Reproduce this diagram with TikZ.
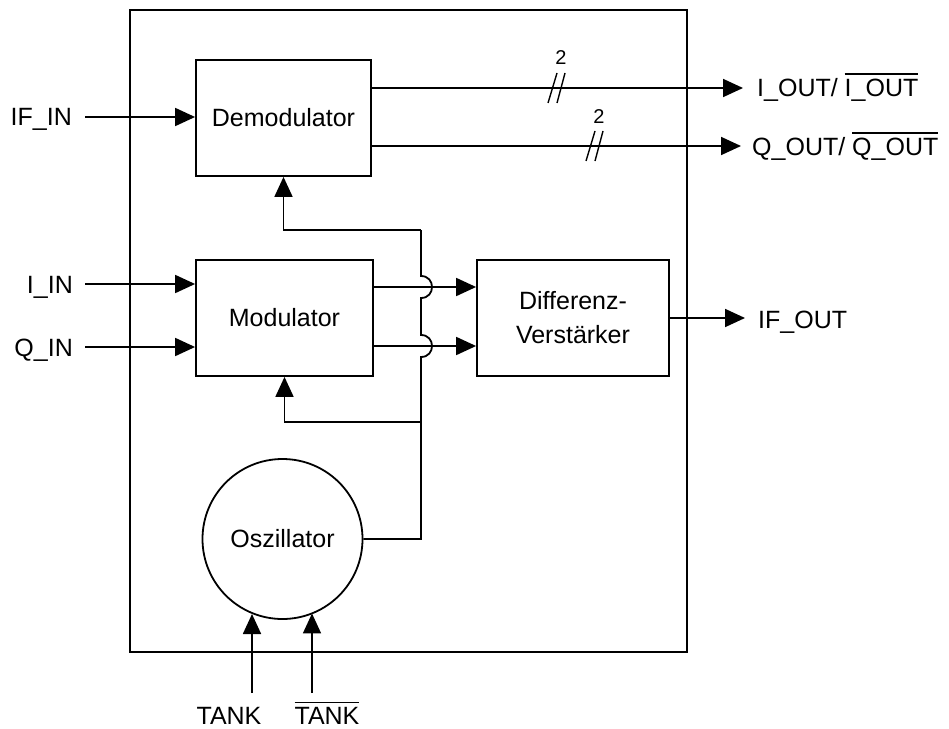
\documentclass[tikz,border=0pt]{standalone}
\usepackage{fontspec}
\setmainfont{Liberation Sans}
\usetikzlibrary{arrows.meta,calc}
\newcommand\barred[1]{\vbox{\hrule height 1.6pt\kern 3.5pt\hbox{#1}}}
\tikzset{
  wire/.style={line width=1.8pt},
  arr/.style={wire,-{Triangle[length=20pt,width=18pt]}},
  blk/.style={draw,line width=1.8pt,inner sep=0pt},
  txt/.style={inner sep=0pt,font=\fontsize{25}{34}\selectfont},
  small/.style={inner sep=0pt,font=\fontsize{20}{24}\selectfont},
  busmark/.pic={\draw[line width=1.4pt] (-9,15) -- (0,-15) (0,15) -- (8,-15);}
}
\begin{document}
\begin{tikzpicture}[x=1pt,y=-1pt]
\useasboundingbox (0,0) rectangle (949,728);
% blocks
\node[blk,minimum width=557pt,minimum height=642pt] (chip) at (408.5,331) {};
\node[blk,txt,minimum width=175pt,minimum height=116pt] (demod) at (283.5,118) {Demodulator};
\node[blk,txt,minimum width=177pt,minimum height=116pt] (mod) at (284.5,318) {Modulator};
\node[blk,txt,align=center,minimum width=192pt,minimum height=116pt] (diff) at (573,318) {Differenz-\\Verstärker};
\node[blk,txt,circle,minimum size=160pt] (osc) at (282.5,539) {Oszillator};
% labels
\node[txt,anchor=base east] (ifin) at (72,125) {IF\_IN};
\node[txt,anchor=base east] (iin) at (73,293) {I\_IN};
\node[txt,anchor=base east] (qin) at (73,356) {Q\_IN};
\node[txt,anchor=base west] (iout) at (757,96) {I\_OUT/ \barred{I\_OUT}};
\node[txt,anchor=base west] (qout) at (752,155) {Q\_OUT/ \barred{Q\_OUT}};
\node[txt,anchor=base west] (ifout) at (758,328) {IF\_OUT};
\node[txt,anchor=base] (tank) at (229,724) {TANK};
\node[txt,anchor=base] (tankn) at (327,724) {\barred{TANK}};
\node[small] (w1) at (561,58) {2};
\node[small] (w2) at (599,117) {2};
% coordinates
\coordinate (ifinS) at (85,117);
\coordinate (iinS) at (85,284);
\coordinate (qinS) at (85,347);
\coordinate (ioutE) at (743,88);
\coordinate (qoutE) at (741,146);
\coordinate (ifoutE) at (745,318);
\coordinate (j1) at (421,287);
\coordinate (j2) at (421,346);
\coordinate (bus) at (421,230);
\coordinate (tap) at (421,422);
\coordinate (t1) at (252,693);
\coordinate (t2) at (312,693);
% inputs
\draw[arr] (ifinS) -- (ifinS -| demod.west);
\draw[arr] (iinS) -- (iinS -| mod.west);
\draw[arr] (qinS) -- (qinS -| mod.west);
% outputs
\draw[arr] (ioutE -| demod.east) -- (ioutE);
\draw[arr] (qoutE -| demod.east) -- (qoutE);
\draw[arr] (diff.east) -- (ifoutE);
\pic at (557,88) {busmark};
\pic at (595,146) {busmark};
% modulator to diff
\draw[arr] (j1 -| mod.east) -- (j1 -| diff.west);
\draw[arr] (j2 -| mod.east) -- (j2 -| diff.west);
% oscillator bus with jumps
\draw[wire] (osc.east) -- (osc.east -| tap)
  -- ($(j2)+(0,11)$) .. controls ($(j2)+(14.7,11)$) and ($(j2)+(14.7,-11)$) .. ($(j2)+(0,-11)$)
  -- ($(j1)+(0,11)$) .. controls ($(j1)+(14.7,11)$) and ($(j1)+(14.7,-11)$) .. ($(j1)+(0,-11)$)
  -- (bus);
\draw[arr] (bus) -| (demod.south);
\draw[arr] (tap) -| (mod.south);
% tank inputs
\draw[arr] (t1) -- (t1 |- osc.-112.4);
\draw[arr] (t2) -- (t2 |- osc.-67.6);
\end{tikzpicture}
\end{document}
